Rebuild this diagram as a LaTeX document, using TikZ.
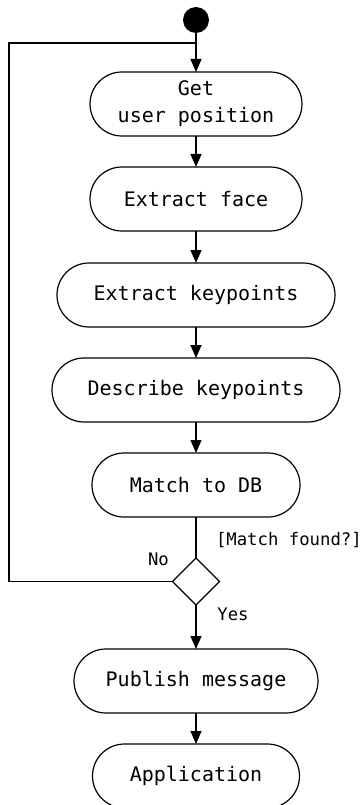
\documentclass[tikz,border=0pt]{standalone}
\usepackage{fontspec}
\setmonofont{DejaVu Sans Mono}
\usetikzlibrary{positioning,arrows.meta,shapes.geometric}

\begin{document}
\begin{tikzpicture}
	[x=1pt,y=1pt,line width=1.2pt,
	every node/.style={font=\ttfamily\fontsize{20}{27}\selectfont,outer sep=0pt},
	act/.style={draw,rectangle,rounded corners=32pt,minimum height=64pt,align=center,inner sep=0pt},
	lbl/.style={font=\ttfamily\fontsize{17.3}{20}\selectfont,inner sep=0pt},
	flow/.style={-{Triangle[length=13pt,width=11pt]}}]
	\useasboundingbox (-196,20) rectangle (165,-785);
	\node[circle,fill=black,minimum size=26pt,inner sep=0pt] (start) at (0,0) {};
	\node[act,minimum width=212pt,below=39pt of start] (pos) {Get\\user position};
	\node[act,minimum width=212pt,below=31pt of pos] (face) {Extract face};
	\node[act,minimum width=278pt,below=32pt of face] (kp) {Extract keypoints};
	\node[act,minimum width=288pt,below=31pt of kp] (desc) {Describe keypoints};
	\node[act,minimum width=208pt,below=31pt of desc] (match) {Match to DB};
	\node[draw,diamond,minimum size=47pt,inner sep=0pt,below=41pt of match] (dec) {};
	\node[act,minimum width=244pt,below=44pt of dec] (pub) {Publish message};
	\node[act,minimum width=207pt,below=31pt of pub] (app) {Application};
	% guard and branch labels
	\node[lbl,anchor=west] (guard) at ([shift={(20pt,41pt)}]dec.center) {[Match found?]};
	\node[lbl] (no) at ([shift={(-37.5pt,22.5pt)}]dec.center) {No};
	\node[lbl] (yes) at ([shift={(37pt,-32.5pt)}]dec.center) {Yes};
	% loop back
	\coordinate (join) at (0,-23);
	\coordinate[left=187pt of join] (turn);
	\draw (dec.west) -| (turn) -- (join);
	\draw[flow] (start) -- (pos);
	\draw[flow] (pos) -- (face);
	\draw[flow] (face) -- (kp);
	\draw[flow] (kp) -- (desc);
	\draw[flow] (desc) -- (match);
	\draw (match) -- (dec);
	\draw[flow] (dec) -- (pub);
	\draw[flow] (pub) -- (app);
\end{tikzpicture}
\end{document}
